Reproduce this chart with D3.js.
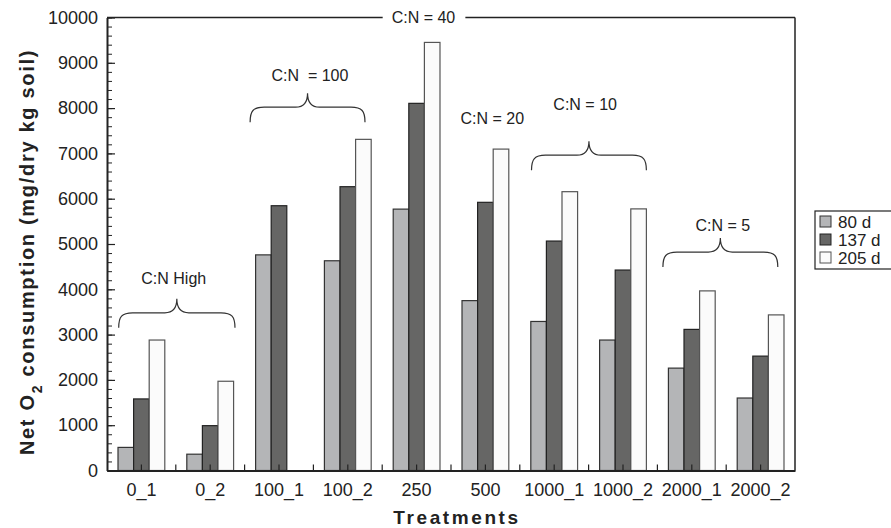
<!DOCTYPE html>
<html>
<head>
<meta charset="utf-8">
<script src="https://cdn.jsdelivr.net/npm/d3@7"></script>
<style>
  body { margin: 0; background: #fff; }
  svg { font-family: "Liberation Sans", Arial, Helvetica, sans-serif; }
  .axis path, .axis line { stroke: #222; }
  .axis text { font-size: 18px; fill: #222; }
</style>
</head>
<body>
<svg id="chart" width="891" height="528"></svg>
<script>
// data
const treatments = ["0_1", "0_2", "100_1", "100_2", "250", "500", "1000_1", "1000_2", "2000_1", "2000_2"];
const seriesNames = ["80 d", "137 d", "205 d"];
const d80  = [510, 360, 4760, 4630, 5770, 3750, 3290, 2880, 2260, 1600];
const d137 = [1580, 990, 5845, 6265, 8105, 5920, 5065, 4425, 3115, 2525];
const d205 = [2880, 1970, 0, 7310, 9450, 7095, 6155, 5775, 3965, 3435];
const yTicks = [0, 1000, 2000, 3000, 4000, 5000, 6000, 7000, 8000, 9000, 10000];

// C:N group annotations (position in category units, values in y units)
const braceLabels = ["C:N High", "C:N  = 100", "C:N = 10", "C:N = 5"];
const braceFrom = [0.17, 2.08, 6.17, 8.08];
const braceTo = [1.86, 3.75, 7.84, 9.75];
const braceTip = [3150, 7690, 6630, 4490];
const braceLabelY = [4230, 8730, 8090, 5420];
const braceLabelX = [0.97, 2.95, 6.95, 8.95];
const freeLabels = ["C:N = 20"];
const freeLabelX = [5.6];
const freeLabelY = [7780];
const topLabel = "C:N = 40";

const colors = ["#b4b5b7", "#666665", "#fbfbfb"];
const strokes = ["#333", "#222", "#555"];

var svg = d3.select("#chart");
var margin = { top: 17.5, left: 107, right: 96, bottom: 57.5 };
var width = 891 - margin.left - margin.right;
var height = 528 - margin.top - margin.bottom;

var g = svg.append("g")
    .attr("transform", "translate(" + margin.left + "," + margin.top + ")");

var x0 = d3.scaleBand().domain(treatments).range([0, width]);
var x1 = d3.scaleBand().domain(seriesNames)
    .range([x0.bandwidth() * 0.16, x0.bandwidth() * 0.84]);
var xc = d3.scaleLinear().domain([0, treatments.length]).range([0, width]);
var y = d3.scaleLinear().domain([0, 10000]).range([height, 0]);

var series = [d80, d137, d205];

// bars
treatments.forEach(function (t, i) {
    series.forEach(function (vals, s) {
        if (!vals[i]) return;
        g.append("rect")
            .attr("x", x0(t) + x1(seriesNames[s]))
            .attr("y", y(vals[i]))
            .attr("width", x1.bandwidth())
            .attr("height", height - y(vals[i]))
            .attr("fill", colors[s])
            .attr("stroke", strokes[s])
            .attr("stroke-width", 1.2);
    });
});

// y axis, major + minor ticks pointing inward
g.append("g")
    .attr("class", "axis")
    .call(d3.axisLeft(y).tickValues(d3.range(0, 10001, 200)).tickSize(-5).tickFormat(""))
    .call(function (a) { a.select(".domain").remove(); });
var yAxis = g.append("g")
    .attr("class", "axis")
    .call(d3.axisLeft(y).tickValues(yTicks).tickFormat(d3.format("d"))
        .tickSizeInner(-8).tickSizeOuter(0).tickPadding(9));
yAxis.select(".domain").attr("stroke-width", 2);
yAxis.selectAll(".tick line").attr("stroke-width", 1.2);

// x axis, ticks at centers and boundaries pointing up
var xAxis = g.append("g")
    .attr("class", "axis")
    .attr("transform", "translate(0," + height + ")")
    .call(d3.axisBottom(x0).tickSizeInner(-6).tickSizeOuter(0).tickPadding(13));
xAxis.select(".domain").attr("stroke-width", 2);
xAxis.selectAll(".tick line").attr("stroke-width", 1.2);
g.append("g").selectAll("line")
    .data(d3.range(1, treatments.length))
    .enter().append("line")
    .attr("x1", function (d) { return xc(d); })
    .attr("x2", function (d) { return xc(d); })
    .attr("y1", height).attr("y2", height - 6)
    .attr("stroke", "#222").attr("stroke-width", 1.2);

// top label sitting in a gap of the frame
var topText = g.append("text")
    .attr("x", xc(4.6)).attr("y", 0).attr("dy", "0.35em")
    .attr("text-anchor", "middle")
    .style("font-size", "16px").attr("fill", "#222")
    .text(topLabel);
var tb = topText.node().getBBox();
g.append("line").attr("x1", 0).attr("x2", tb.x - 9).attr("y1", 0).attr("y2", 0)
    .attr("stroke", "#222").attr("stroke-width", 1.5);
g.append("line").attr("x1", tb.x + tb.width + 10).attr("x2", width).attr("y1", 0).attr("y2", 0)
    .attr("stroke", "#222").attr("stroke-width", 1.5);
g.append("line").attr("x1", width).attr("x2", width).attr("y1", 0).attr("y2", height)
    .attr("stroke", "#222").attr("stroke-width", 1.5);

// curly braces
function bracePath(xa, xb, yt) {
    var xm = (xa + xb) / 2, yf = yt - 15, yp = yt - 29;
    return "M" + xa + "," + yt +
        " C" + xa + "," + (yf + 4) + " " + (xa + 3) + "," + yf + " " + (xa + 14) + "," + yf +
        " L" + (xm - 12) + "," + yf +
        " C" + (xm - 4) + "," + yf + " " + xm + "," + (yf - 4) + " " + xm + "," + yp +
        " C" + xm + "," + (yf - 4) + " " + (xm + 4) + "," + yf + " " + (xm + 12) + "," + yf +
        " L" + (xb - 14) + "," + yf +
        " C" + (xb - 3) + "," + yf + " " + xb + "," + (yf + 4) + " " + xb + "," + yt;
}
braceLabels.forEach(function (lab, i) {
    g.append("path")
        .attr("d", bracePath(xc(braceFrom[i]), xc(braceTo[i]), y(braceTip[i])))
        .attr("fill", "none").attr("stroke", "#333").attr("stroke-width", 1.2);
    g.append("text")
        .attr("x", xc(braceLabelX[i])).attr("y", y(braceLabelY[i])).attr("dy", "0.35em")
        .attr("text-anchor", "middle")
        .style("font-size", "16px").attr("fill", "#222")
        .style("white-space", "pre")
        .text(lab);
});
freeLabels.forEach(function (lab, i) {
    g.append("text")
        .attr("x", xc(freeLabelX[i])).attr("y", y(freeLabelY[i])).attr("dy", "0.35em")
        .attr("text-anchor", "middle")
        .style("font-size", "16px").attr("fill", "#222")
        .text(lab);
});

// axis titles
var yTitle = svg.append("text")
    .attr("transform", "translate(34," + (margin.top + height / 2 + 8) + ") rotate(-90)")
    .attr("text-anchor", "middle")
    .style("font-size", "20px").style("font-weight", "bold")
    .style("letter-spacing", "1.7px").attr("fill", "#222");
yTitle.append("tspan").text("Net O");
yTitle.append("tspan").attr("baseline-shift", "sub").style("font-size", "14px").text("2");
yTitle.append("tspan").text(" consumption (mg/dry kg soil)");

svg.append("text")
    .attr("x", margin.left + width / 2 + 6).attr("y", 524)
    .attr("text-anchor", "middle")
    .style("font-size", "19px").style("font-weight", "bold")
    .style("letter-spacing", "2.6px").attr("fill", "#222")
    .text("Treatments");

// legend
var legend = svg.append("g").attr("transform", "translate(815,211)");
legend.append("rect")
    .attr("x", 0).attr("y", 0).attr("width", 80).attr("height", 58)
    .attr("fill", "#fff").attr("stroke", "#222").attr("stroke-width", 1.2);
seriesNames.forEach(function (name, i) {
    var row = legend.append("g").attr("transform", "translate(5," + (5 + i * 18) + ")");
    row.append("rect")
        .attr("width", 11).attr("height", 11)
        .attr("fill", colors[i]).attr("stroke", strokes[i]).attr("stroke-width", 1);
    row.append("text")
        .attr("x", 18).attr("y", 6).attr("dy", "0.35em")
        .style("font-size", "17px").attr("fill", "#222")
        .text(name);
});
</script>
</body>
</html>
